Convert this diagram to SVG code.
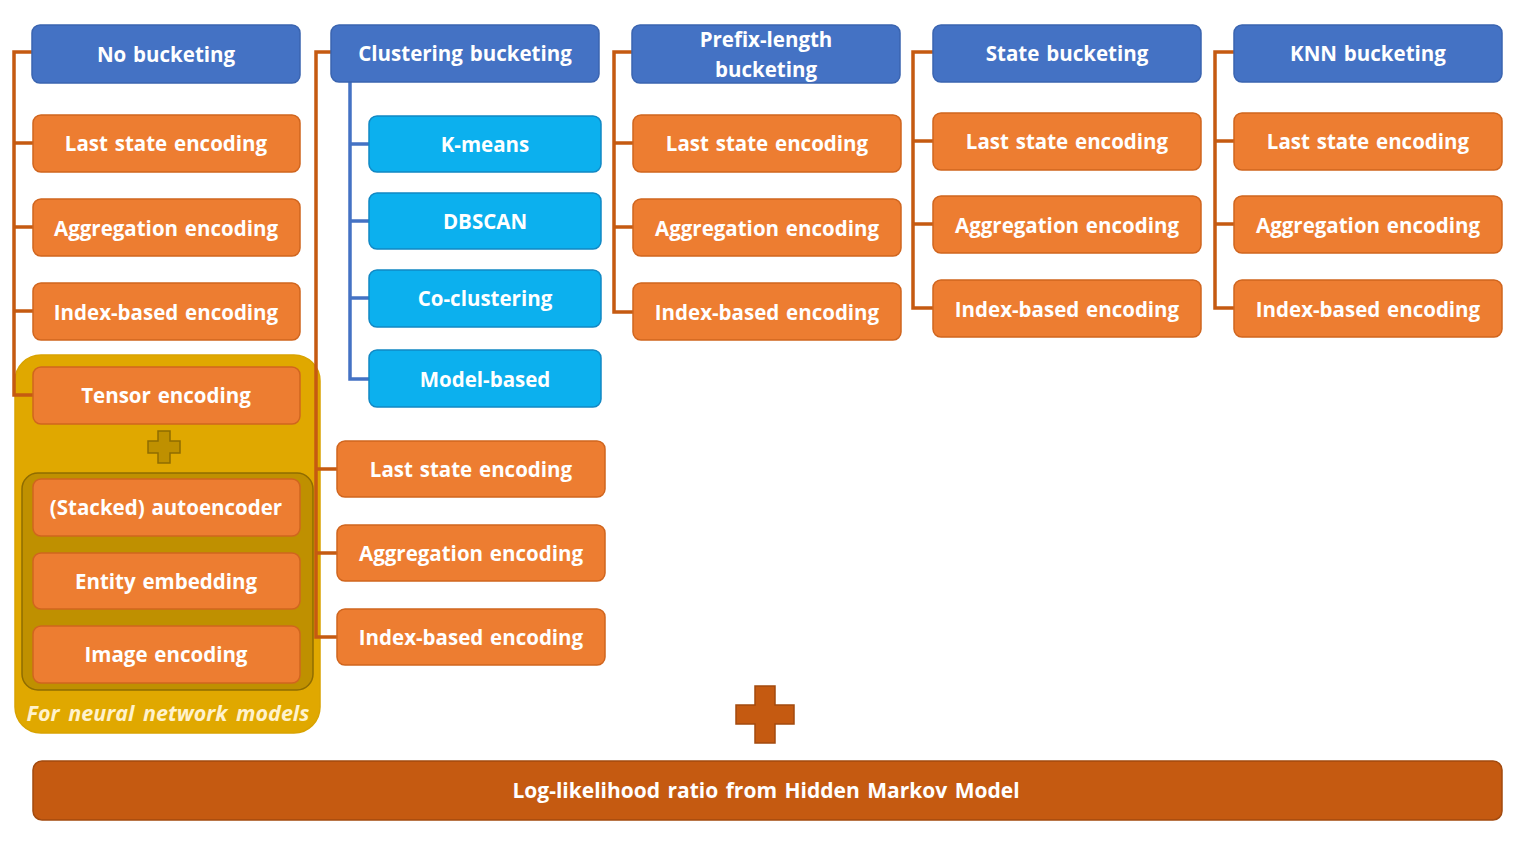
<svg xmlns="http://www.w3.org/2000/svg" width="1528" height="858" viewBox="0 0 1528 858">
<style>
.hdr{fill:#4472C4;stroke:#3A64B0;stroke-width:1.5}
.enc{fill:#ED7D31;stroke:#D0651E;stroke-width:1.5}
.clu{fill:#0CB0EE;stroke:#1188C4;stroke-width:1.5}
.t{font-family:"Open Sans","DejaVu Sans",sans-serif;font-weight:bold;font-size:20.5px;word-spacing:1.5px;fill:#FFFFFF;text-anchor:middle;dominant-baseline:central}
.co{fill:none;stroke:#C55A11;stroke-width:3.5}
.cb{fill:none;stroke:#4472C4;stroke-width:3.5}
</style>
<rect width="1528" height="858" fill="#FFFFFF"/>
<g id="nn-group">
<rect x="15" y="355" width="305" height="378" rx="26" fill="#E0A800" stroke="#D9A300" stroke-width="1.5"/>
<rect x="22" y="473" width="291" height="217" rx="16" fill="#BF9000" stroke="#8F6C00" stroke-width="1.5"/>
<path d="M158,431 h12 v10 h10 v12 h-10 v10 h-12 v-10 h-10 v-12 h10 z" fill="#BF9000" stroke="#8F6C00" stroke-width="1.5"/>
<text x="168" y="712" font-family="'Open Sans','DejaVu Sans',sans-serif" font-weight="bold" font-style="italic" font-size="21.5" word-spacing="3" fill="#FFF2CC" text-anchor="middle" dominant-baseline="central">For neural network models</text>
</g>
<g id="connectors">
<path class="co" d="M32,52 H14 V395 H33 M14,143 H33 M14,227 H33 M14,311 H33"/>
<path class="co" d="M331,52 H316 V637 H337 M316,469 H337 M316,553 H337"/>
<path class="cb" d="M350,82 V379 H369 M350,144 H369 M350,221 H369 M350,298 H369"/>
<path class="co" d="M632,52 H614 V312 H633 M614,143 H633 M614,227 H633"/>
<path class="co" d="M933,52 H913 V308 H933 M913,141 H933 M913,224 H933"/>
<path class="co" d="M1234,52 H1215 V308 H1234 M1215,141 H1234 M1215,224 H1234"/>
</g>
<g id="no-bucketing"><rect class="hdr" x="32" y="25" width="268" height="58" rx="8"/><text class="t" x="166" y="54">No bucketing</text></g>
<g id="nb-last"><rect class="enc" x="33" y="115" width="267" height="57" rx="8"/><text class="t" x="166" y="143">Last state encoding</text></g>
<g id="nb-agg"><rect class="enc" x="33" y="199" width="267" height="57" rx="8"/><text class="t" x="166" y="228">Aggregation encoding</text></g>
<g id="nb-index"><rect class="enc" x="33" y="283" width="267" height="57" rx="8"/><text class="t" x="166" y="312">Index-based encoding</text></g>
<g id="nb-tensor"><rect class="enc" x="33" y="367" width="267" height="57" rx="8"/><text class="t" x="166" y="395">Tensor encoding</text></g>
<g id="nb-stacked"><rect class="enc" x="33" y="479" width="267" height="57" rx="8"/><text class="t" x="166" y="507">(Stacked) autoencoder</text></g>
<g id="nb-entity"><rect class="enc" x="33" y="553" width="267" height="56" rx="8"/><text class="t" x="166" y="581">Entity embedding</text></g>
<g id="nb-image"><rect class="enc" x="33" y="626" width="267" height="57" rx="8"/><text class="t" x="166" y="654">Image encoding</text></g>

<g id="clustering-bucketing"><rect class="hdr" x="331" y="25" width="268" height="57" rx="8"/><text class="t" x="465" y="53">Clustering bucketing</text></g>
<g id="cl-kmeans"><rect class="clu" x="369" y="116" width="232" height="56" rx="8"/><text class="t" x="485" y="144">K-means</text></g>
<g id="cl-dbscan"><rect class="clu" x="369" y="193" width="232" height="56" rx="8"/><text class="t" x="485" y="221">DBSCAN</text></g>
<g id="cl-cocl"><rect class="clu" x="369" y="270" width="232" height="57" rx="8"/><text class="t" x="485" y="298">Co-clustering</text></g>
<g id="cl-model"><rect class="clu" x="369" y="350" width="232" height="57" rx="8"/><text class="t" x="485" y="379">Model-based</text></g>
<g id="cb-last"><rect class="enc" x="337" y="441" width="268" height="56" rx="8"/><text class="t" x="471" y="469">Last state encoding</text></g>
<g id="cb-agg"><rect class="enc" x="337" y="525" width="268" height="56" rx="8"/><text class="t" x="471" y="553">Aggregation encoding</text></g>
<g id="cb-index"><rect class="enc" x="337" y="609" width="268" height="56" rx="8"/><text class="t" x="471" y="637">Index-based encoding</text></g>

<g id="prefix-bucketing"><rect class="hdr" x="632" y="25" width="268" height="58" rx="8"/><text class="t" x="766" y="39">Prefix-length</text><text class="t" x="766" y="69">bucketing</text></g>
<g id="pb-last"><rect class="enc" x="633" y="115" width="268" height="57" rx="8"/><text class="t" x="767" y="143">Last state encoding</text></g>
<g id="pb-agg"><rect class="enc" x="633" y="199" width="268" height="57" rx="8"/><text class="t" x="767" y="228">Aggregation encoding</text></g>
<g id="pb-index"><rect class="enc" x="633" y="283" width="268" height="57" rx="8"/><text class="t" x="767" y="312">Index-based encoding</text></g>

<g id="state-bucketing"><rect class="hdr" x="933" y="25" width="268" height="57" rx="8"/><text class="t" x="1067" y="53">State bucketing</text></g>
<g id="sb-last"><rect class="enc" x="933" y="113" width="268" height="57" rx="8"/><text class="t" x="1067" y="141">Last state encoding</text></g>
<g id="sb-agg"><rect class="enc" x="933" y="196" width="268" height="57" rx="8"/><text class="t" x="1067" y="225">Aggregation encoding</text></g>
<g id="sb-index"><rect class="enc" x="933" y="280" width="268" height="57" rx="8"/><text class="t" x="1067" y="309">Index-based encoding</text></g>

<g id="knn-bucketing"><rect class="hdr" x="1234" y="25" width="268" height="57" rx="8"/><text class="t" x="1368" y="53">KNN bucketing</text></g>
<g id="kb-last"><rect class="enc" x="1234" y="113" width="268" height="57" rx="8"/><text class="t" x="1368" y="141">Last state encoding</text></g>
<g id="kb-agg"><rect class="enc" x="1234" y="196" width="268" height="57" rx="8"/><text class="t" x="1368" y="225">Aggregation encoding</text></g>
<g id="kb-index"><rect class="enc" x="1234" y="280" width="268" height="57" rx="8"/><text class="t" x="1368" y="309">Index-based encoding</text></g>

<g id="plus"><path d="M755,686 h20 v19 h19 v19 h-19 v19 h-20 v-19 h-19 v-19 h19 z" fill="#C55A11" stroke="#A34A0E" stroke-width="1.5"/></g>
<g id="hmm"><rect x="33" y="761" width="1469" height="59" rx="9" fill="#C55A11" stroke="#A34A0E" stroke-width="1.5"/><text class="t" x="766" y="790" style="font-size:21px;word-spacing:2px">Log-likelihood  ratio from Hidden Markov Model</text></g>
</svg>
